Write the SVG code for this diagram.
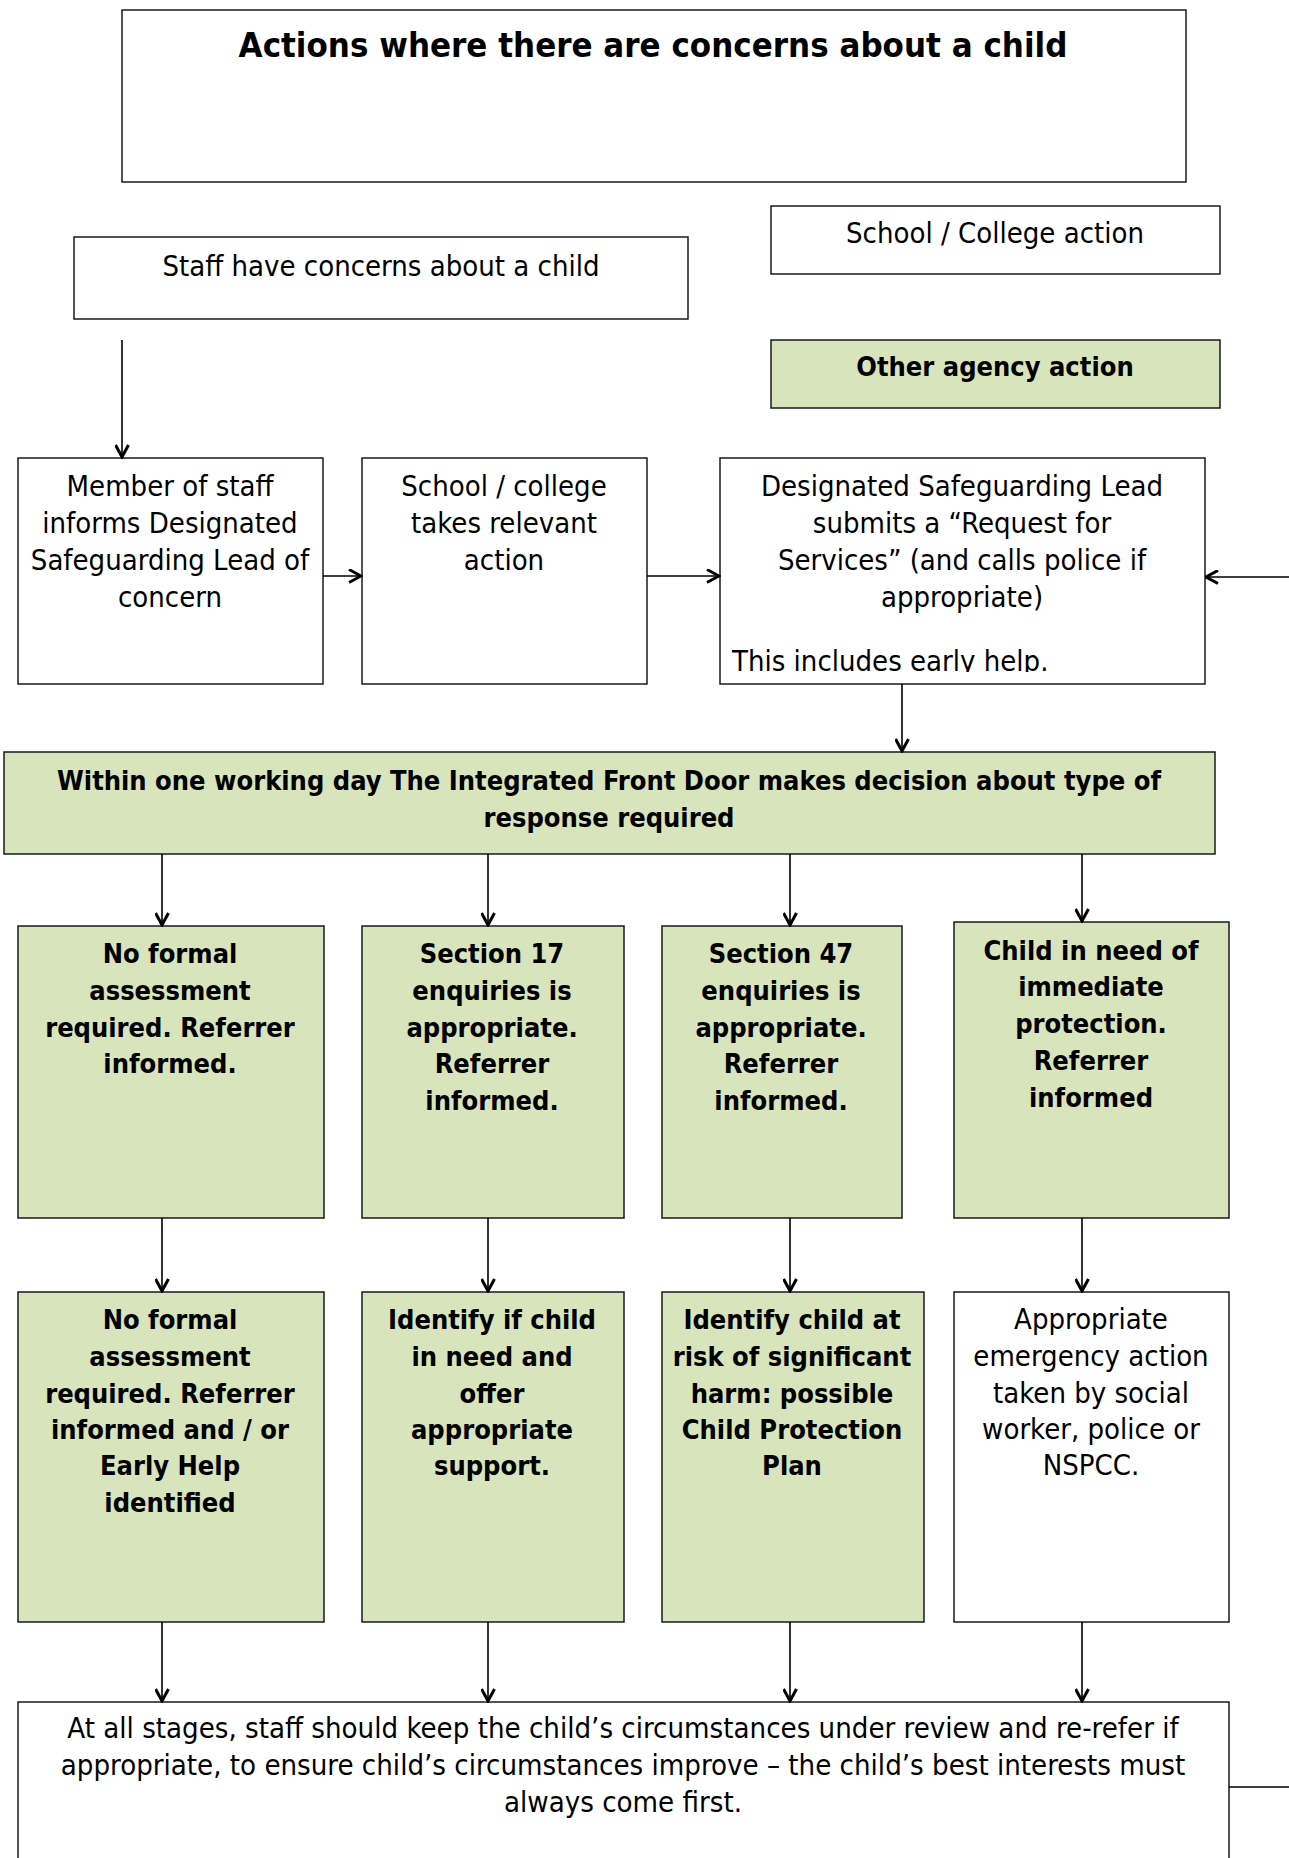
<svg xmlns="http://www.w3.org/2000/svg" width="1289" height="1858" viewBox="0 0 1289 1858">
<style>
.box{fill:#ffffff;stroke:#1a1a1a;stroke-width:1.5}
.green{fill:#d8e4bc;stroke:#1a1a1a;stroke-width:1.5}
text{font-family:'DejaVu Sans Condensed','Liberation Sans',Arial,sans-serif;font-size:29px;fill:#000;text-anchor:middle}
.b{font-weight:bold;font-size:27px}
.title{font-size:34.5px;font-weight:bold}
.l{text-anchor:start}
.rv{font-size:29.1px}
.conn{fill:none;stroke:#000;stroke-width:1.6}
</style>
<defs>
<marker id="arr" markerUnits="userSpaceOnUse" viewBox="0 0 15 15" refX="13.5" refY="7.5" markerWidth="15" markerHeight="15" orient="auto">
<path d="M1.5,1 L13.5,7.5 L1.5,14" fill="none" stroke="#000" stroke-width="3"/>
</marker>
<clipPath id="dslclip"><rect x="720" y="458" width="485" height="214"/></clipPath>
</defs>

<g id="title">
<rect class="box" x="122" y="10" width="1064" height="172"/>
<text class="title" x="653" y="57">Actions where there are concerns about a child</text>
</g>

<g id="legend-school">
<rect class="box" x="771" y="206" width="449" height="68"/>
<text x="995" y="243">School / College action</text>
</g>

<g id="legend-other">
<rect class="green" x="771" y="340" width="449" height="68"/>
<text class="b" x="995" y="376">Other agency action</text>
</g>

<g id="staff-concerns">
<rect class="box" x="74" y="237" width="614" height="82"/>
<text x="381" y="276">Staff have concerns about a child</text>
</g>

<g id="member-informs">
<rect class="box" x="18" y="458" width="305" height="226"/>
<text x="170" y="496">Member of staff</text>
<text x="170" y="533">informs Designated</text>
<text x="170" y="570">Safeguarding Lead of</text>
<text x="170" y="607">concern</text>
</g>

<g id="school-action">
<rect class="box" x="362" y="458" width="285" height="226"/>
<text x="504" y="496">School / college</text>
<text x="504" y="533">takes relevant</text>
<text x="504" y="570">action</text>
</g>

<g id="dsl-request">
<rect class="box" x="720" y="458" width="485" height="226"/>
<text x="962" y="496">Designated Safeguarding Lead</text>
<text x="962" y="533">submits a “Request for</text>
<text x="962" y="570">Services” (and calls police if</text>
<text x="962" y="607">appropriate)</text>
<text class="l" x="732" y="671" clip-path="url(#dslclip)">This includes early help.</text>
</g>

<g id="front-door">
<rect class="green" x="4" y="752" width="1211" height="102"/>
<text class="b" x="609" y="790">Within one working day The Integrated Front Door makes decision about type of</text>
<text class="b" x="609" y="827">response required</text>
</g>

<g id="no-formal-1">
<rect class="green" x="18" y="926" width="306" height="292"/>
<text class="b" x="170" y="963">No formal</text>
<text class="b" x="170" y="1000">assessment</text>
<text class="b" x="170" y="1037">required. Referrer</text>
<text class="b" x="170" y="1073">informed.</text>
</g>

<g id="section17">
<rect class="green" x="362" y="926" width="262" height="292"/>
<text class="b" x="492" y="963">Section 17</text>
<text class="b" x="492" y="1000">enquiries is</text>
<text class="b" x="492" y="1037">appropriate.</text>
<text class="b" x="492" y="1073">Referrer</text>
<text class="b" x="492" y="1110">informed.</text>
</g>

<g id="section47">
<rect class="green" x="662" y="926" width="240" height="292"/>
<text class="b" x="781" y="963">Section 47</text>
<text class="b" x="781" y="1000">enquiries is</text>
<text class="b" x="781" y="1037">appropriate.</text>
<text class="b" x="781" y="1073">Referrer</text>
<text class="b" x="781" y="1110">informed.</text>
</g>

<g id="immediate-protection">
<rect class="green" x="954" y="922" width="275" height="296"/>
<text class="b" x="1091" y="960">Child in need of</text>
<text class="b" x="1091" y="996">immediate</text>
<text class="b" x="1091" y="1033">protection.</text>
<text class="b" x="1091" y="1070">Referrer</text>
<text class="b" x="1091" y="1107">informed</text>
</g>

<g id="no-formal-2">
<rect class="green" x="18" y="1292" width="306" height="330"/>
<text class="b" x="170" y="1329">No formal</text>
<text class="b" x="170" y="1366">assessment</text>
<text class="b" x="170" y="1403">required. Referrer</text>
<text class="b" x="170" y="1439">informed and / or</text>
<text class="b" x="170" y="1475">Early Help</text>
<text class="b" x="170" y="1512">identified</text>
</g>

<g id="child-in-need">
<rect class="green" x="362" y="1292" width="262" height="330"/>
<text class="b" x="492" y="1329">Identify if child</text>
<text class="b" x="492" y="1366">in need and</text>
<text class="b" x="492" y="1403">offer</text>
<text class="b" x="492" y="1439">appropriate</text>
<text class="b" x="492" y="1475">support.</text>
</g>

<g id="significant-harm">
<rect class="green" x="662" y="1292" width="262" height="330"/>
<text class="b" x="792" y="1329">Identify child at</text>
<text class="b" x="792" y="1366">risk of significant</text>
<text class="b" x="792" y="1403">harm: possible</text>
<text class="b" x="792" y="1439">Child Protection</text>
<text class="b" x="792" y="1475">Plan</text>
</g>

<g id="emergency-action">
<rect class="box" x="954" y="1292" width="275" height="330"/>
<text x="1091" y="1329">Appropriate</text>
<text x="1091" y="1366">emergency action</text>
<text x="1091" y="1403">taken by social</text>
<text x="1091" y="1439">worker, police or</text>
<text x="1091" y="1475">NSPCC.</text>
</g>

<g id="review">
<rect class="box" x="18" y="1702" width="1211" height="180"/>
<text class="rv" x="623" y="1738">At all stages, staff should keep the child’s circumstances under review and re-refer if</text>
<text class="rv" x="623" y="1775">appropriate, to ensure child’s circumstances improve – the child’s best interests must</text>
<text class="rv" x="623" y="1812">always come first.</text>
</g>

<g id="connectors">
<line class="conn" x1="122" y1="340" x2="122" y2="457" marker-end="url(#arr)"/>
<line class="conn" x1="323" y1="576" x2="361" y2="576" marker-end="url(#arr)"/>
<line class="conn" x1="647" y1="576" x2="719" y2="576" marker-end="url(#arr)"/>
<path class="conn" d="M1229,1787 H1300 V577 H1206" marker-end="url(#arr)"/>
<line class="conn" x1="902" y1="684" x2="902" y2="751" marker-end="url(#arr)"/>
<line class="conn" x1="162" y1="854" x2="162" y2="925" marker-end="url(#arr)"/>
<line class="conn" x1="488" y1="854" x2="488" y2="925" marker-end="url(#arr)"/>
<line class="conn" x1="790" y1="854" x2="790" y2="925" marker-end="url(#arr)"/>
<line class="conn" x1="1082" y1="854" x2="1082" y2="921" marker-end="url(#arr)"/>
<line class="conn" x1="162" y1="1218" x2="162" y2="1291" marker-end="url(#arr)"/>
<line class="conn" x1="488" y1="1218" x2="488" y2="1291" marker-end="url(#arr)"/>
<line class="conn" x1="790" y1="1218" x2="790" y2="1291" marker-end="url(#arr)"/>
<line class="conn" x1="1082" y1="1218" x2="1082" y2="1291" marker-end="url(#arr)"/>
<line class="conn" x1="162" y1="1622" x2="162" y2="1701" marker-end="url(#arr)"/>
<line class="conn" x1="488" y1="1622" x2="488" y2="1701" marker-end="url(#arr)"/>
<line class="conn" x1="790" y1="1622" x2="790" y2="1701" marker-end="url(#arr)"/>
<line class="conn" x1="1082" y1="1622" x2="1082" y2="1701" marker-end="url(#arr)"/>
</g>
</svg>
